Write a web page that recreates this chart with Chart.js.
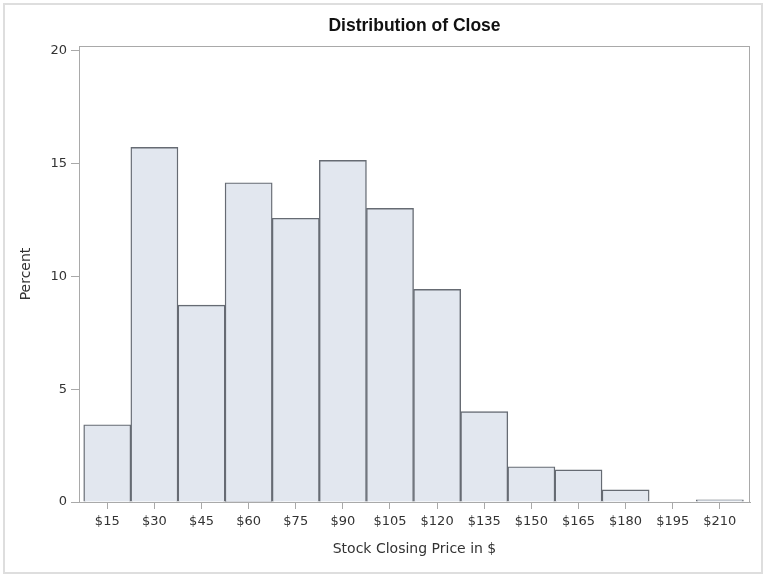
<!DOCTYPE html>
<html>
<head>
<meta charset="utf-8">
<script src="https://cdn.jsdelivr.net/npm/chart.js@4"></script>
<style>
  html, body { margin: 0; padding: 0; background: #ffffff; }
  #wrap { position: relative; width: 768px; height: 576px; }
  #frame { position: absolute; left: 3px; top: 3px; width: 760px; height: 571px; border: 2px solid #dedede; box-sizing: border-box; pointer-events: none; }
  canvas { display: block; }
</style>
</head>
<body>
<div id="wrap">
  <canvas id="c" width="768" height="576"></canvas>
  <div id="frame"></div>
</div>
<script>
const midpoints = [15, 30, 45, 60, 75, 90, 105, 120, 135, 150, 165, 180, 195, 210];
const percents  = [3.42, 15.71, 8.72, 14.14, 12.57, 15.13, 13.01, 9.42, 4.0, 1.56, 1.42, 0.54, 0, 0.1];
const yTicks    = [0, 5, 10, 15, 20];
const titleText = 'Distribution of Close';
const xTitle    = 'Stock Closing Price in $';
const yTitle    = 'Percent';

const FONT = "'DejaVu Sans', sans-serif";
const TFONT = "'Liberation Sans', Arial, sans-serif";

const framePlugin = {
  id: 'frame',
  afterDatasetsDraw(chart) {
    const a = chart.chartArea, ctx = chart.ctx;
    ctx.save();
    ctx.strokeStyle = '#a9a9a9';
    ctx.lineWidth = 1;
    ctx.strokeRect(Math.round(a.left) + 0.5, Math.round(a.top) + 0.5,
                   Math.round(a.right - a.left) - 1, Math.round(a.bottom - a.top));
    ctx.restore();
  }
};

// Main title centred over the plot area (as in the reference)
const centredTitle = {
  id: 'centredTitle',
  afterDraw(chart) {
    const a = chart.chartArea, ctx = chart.ctx;
    ctx.save();
    ctx.fillStyle = '#111111';
    ctx.font = "bold 17.5px " + TFONT;
    ctx.textAlign = 'center';
    ctx.textBaseline = 'middle';
    ctx.fillText(titleText, (a.left + a.right) / 2, 26);
    ctx.restore();
  }
};

new Chart(document.getElementById('c'), {
  type: 'bar',
  data: {
    datasets: [{
      data: midpoints.map((m, i) => ({ x: m, y: percents[i] })),
      backgroundColor: '#e2e7ef',
      borderColor: '#666b73',
      borderWidth: 1.4,
      borderSkipped: 'bottom',
      categoryPercentage: 1.0,
      barPercentage: 1.0
    }]
  },
  plugins: [framePlugin, centredTitle],
  options: {
    responsive: false,
    animation: false,
    devicePixelRatio: 1,
    layout: { padding: { left: 0, right: 18, top: 46, bottom: 0 } },
    plugins: {
      legend: { display: false },
      tooltip: { enabled: false },
      title: { display: false }
    },
    scales: {
      x: {
        type: 'linear',
        min: 6,
        max: 219.6,
        offset: false,
        afterBuildTicks: (s) => { s.ticks = midpoints.map(v => ({ value: v })); },
        afterFit: (s) => { s.height = 74; },
        ticks: {
          color: '#333333',
          font: { family: FONT, size: 13 },
          padding: 5,
          autoSkip: false,
          maxRotation: 0,
          callback: (v) => '$' + v
        },
        grid: { display: true, offset: false, drawOnChartArea: false, drawTicks: true, tickLength: 7, color: '#a9a9a9' },
        border: { display: true, color: '#a9a9a9' },
        title: {
          display: true,
          text: xTitle,
          color: '#333333',
          font: { family: FONT, size: 14 },
          padding: { top: 6, bottom: 18 }
        }
      },
      y: {
        min: 0,
        max: 20.2,
        afterBuildTicks: (s) => { s.ticks = yTicks.map(v => ({ value: v })); },
        afterFit: (s) => { s.width = 79; },
        ticks: {
          color: '#333333',
          font: { family: FONT, size: 13 },
          padding: 4
        },
        grid: { display: true, offset: false, drawOnChartArea: false, drawTicks: true, tickLength: 8, color: '#a9a9a9' },
        border: { display: true, color: '#a9a9a9' },
        title: {
          display: true,
          text: yTitle,
          color: '#333333',
          font: { family: FONT, size: 14 },
          padding: { top: 18, bottom: 0 }
        }
      }
    }
  }
});
</script>
</body>
</html>
